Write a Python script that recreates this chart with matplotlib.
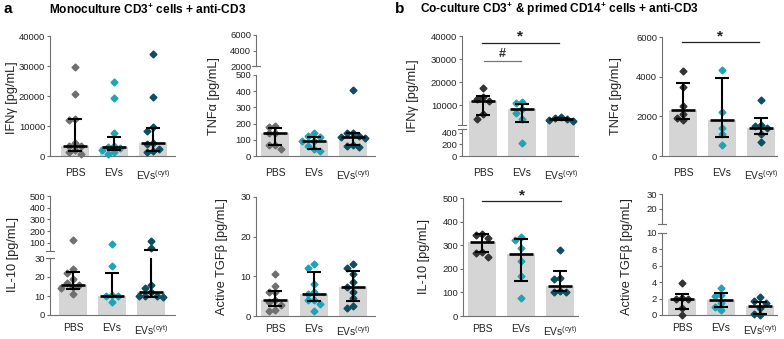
import matplotlib
matplotlib.use("Agg")
import matplotlib.pyplot as plt
import matplotlib.transforms as mtransforms
import numpy as np

plt.rcParams['font.family'] = ['Liberation Sans', 'DejaVu Sans']
plt.rcParams['mathtext.fontset'] = 'custom'
plt.rcParams['mathtext.rm'] = 'Liberation Sans'
plt.rcParams['mathtext.bf'] = 'Liberation Sans:bold'
plt.rcParams['mathtext.default'] = 'regular'

# ---------------- data ----------------
groups = ["PBS", "EVs", "EVs$^{(cyt)}$"]

# Panel a: monoculture
a_ifn_pbs = [29800, 20800, 12400, 12000, 4500, 3500, 3200, 2000, 1500, 800]
a_ifn_evs = [24800, 19300, 7800, 3200, 3000, 2800, 2000, 1200, 800]
a_ifn_cyt = [34000, 19700, 9800, 8400, 4300, 4000, 2500, 1800, 1500]
a_ifn_med = [3200, 3000, 4300]
a_ifn_lo = [1800, 2000, 1700]
a_ifn_hi = [12300, 6500, 9500]

a_tnf_pbs = [186, 180, 145, 140, 70, 65, 42]
a_tnf_evs = [145, 125, 120, 95, 90, 60, 45, 30]
a_tnf_cyt = [410, 145, 143, 125, 115, 110, 65, 60, 55]
a_tnf_med = [140, 92, 115]
a_tnf_lo = [65, 45, 65]
a_tnf_hi = [175, 120, 140]

a_il10_pbs = [128, 24, 22, 19, 17, 16, 15, 14, 11]
a_il10_evs = [92, 26, 10.5, 10, 10, 7]
a_il10_cyt = [115, 53, 16, 14, 12, 10, 10, 10, 9.5]
a_il10_med = [16, 10, 12]
a_il10_lo = [13.6, 10, 9.7]
a_il10_hi = [22.5, 22, 38]

a_tgf_pbs = [10.5, 7.5, 6, 6, 4, 3.5, 2.8, 1.5, 1.2]
a_tgf_evs = [13, 12, 8, 6, 5.5, 4, 4, 3, 1.2]
a_tgf_cyt = [13, 12, 10.5, 8.5, 7.2, 6, 4.5, 2.5, 2]
a_tgf_med = [4.1, 5.5, 7.2]
a_tgf_lo = [2.5, 3.8, 3.8]
a_tgf_hi = [6.4, 11.1, 11.3]

# Panel b: co-culture
b_ifn_pbs = [17300, 13500, 12500, 12000, 6200, 4000]
b_ifn_evs = [11200, 11000, 8100, 6600, 4100, 230]
b_ifn_cyt = [4800, 4400, 4000, 3500, 3000]
b_ifn_med = [12000, 8100, 4000]
b_ifn_lo = [5900, 2700, 3500]
b_ifn_hi = [14000, 10600, 4500]

b_tnf_pbs = [4300, 3500, 2500, 2100, 1900, 1800]
b_tnf_evs = [4350, 2200, 1400, 1100, 550]
b_tnf_cyt = [2800, 1550, 1500, 1400, 1100, 720]
b_tnf_med = [2300, 1800, 1400]
b_tnf_lo = [1850, 980, 1100]
b_tnf_hi = [3700, 3950, 1900]

b_il10_pbs = [348, 345, 330, 270, 268, 248]
b_il10_evs = [336, 322, 290, 234, 171, 77]
b_il10_cyt = [280, 162, 158, 105, 102, 100]
b_il10_med = [312, 262, 129]
b_il10_lo = [270, 150, 105]
b_il10_hi = [347, 325, 190]

b_tgf_pbs = [3.9, 2.1, 2.0, 1.9, 0.8, 0.05]
b_tgf_evs = [3.3, 2.5, 2.3, 1.5, 1.0, 0.6]
b_tgf_cyt = [2.2, 1.7, 1.5, 0.8, 0.1, 0.05]
b_tgf_med = [1.95, 1.82, 1.05]
b_tgf_lo = [0.75, 1.0, 0.08]
b_tgf_hi = [2.6, 2.63, 1.62]

# ---------------- style ----------------
W, H = 784, 339
fig = plt.figure(figsize=(W / 100, H / 100), dpi=100)

C_PBS_A = '#6f6f6f'
C_PBS_B = '#333333'
C_EVS = '#1fa3b6'
C_CYT = '#0d4f5f'
C_BAR = '#d5d5d5'
C_AX = '#707070'
PXU = 39.0  # pixels per category unit
TICK_FS = 6.8


def make_ax(spine, bar0, right, top, bottom, ylim, yticks, show_x=True, xpad=8.5):
    ax = fig.add_axes([spine / W, 1 - bottom / H, (right - spine) / W, (bottom - top) / H])
    xmin = -(bar0 - spine) / PXU
    ax.set_xlim(xmin, xmin + (right - spine) / PXU)
    ax.set_ylim(*ylim)
    ax.set_facecolor('none')
    for s in ['top', 'right']:
        ax.spines[s].set_visible(False)
    for s in ['left', 'bottom']:
        ax.spines[s].set_color(C_AX)
        ax.spines[s].set_linewidth(0.8)
    ax.set_yticks(yticks)
    ax.set_yticklabels([str(t) for t in yticks])
    ax.tick_params(axis='y', length=2.5, width=0.8, color=C_AX, labelsize=TICK_FS, pad=1,
                   labelcolor='#222222')
    if show_x:
        ax.set_xticks([0, 1, 2])
        ax.set_xticklabels(groups)
        ax.tick_params(axis='x', length=0, labelsize=7.4, pad=xpad, labelcolor='#222222')
    else:
        ax.set_xticks([])
        ax.spines['bottom'].set_visible(False)
    return ax


def cap(ax, yval):
    tr = mtransforms.blended_transform_factory(ax.transAxes, ax.transData)
    ax.plot([-0.035, 0.035], [yval, yval], color=C_AX, lw=0.8, transform=tr, clip_on=False)


def pick(axes, v):
    for ax in axes:
        lo, hi = ax.get_ylim()
        if lo <= v <= hi:
            return ax
    return axes[0]


def swarm_offsets(axes, values, xc, ms_px=5.8):
    placed = []
    offs = []
    d = ms_px * 1.0
    for v in values:
        ax = pick(axes, v)
        ypx = ax.transData.transform((xc, v))[1]
        for k in [0, -1, 1, -2, 2, -3, 3, -4, 4]:
            xo = k * d
            if all((xo - px) ** 2 + (ypx - py) ** 2 >= ms_px ** 2 for px, py in placed):
                break
        placed.append((xo, ypx))
        offs.append(xo / PXU)
    return offs


def draw_panel(axes, vals_list, med, lo, hi, colors):
    for i, (vals, col) in enumerate(zip(vals_list, colors)):
        for ax in axes:
            ax.bar(i, med[i], width=0.72, color=C_BAR, zorder=1)
        offs = swarm_offsets(axes, vals, i)
        for v, o in zip(vals, offs):
            ax = pick(axes, v)
            ax.plot(i + o, v, marker='D', ms=3.5, color=col, mec=col, ls='none', zorder=3,
                    clip_on=False)
        for ax in axes:
            ax.plot([i, i], [lo[i], hi[i]], color='black', lw=1.5, zorder=4,
                    solid_capstyle='butt')
        for val, half, lw in [(med[i], 0.3, 1.9), (lo[i], 0.17, 1.5), (hi[i], 0.17, 1.5)]:
            ax = pick(axes, val)
            ax.plot([i - half, i + half], [val, val], color='black', lw=lw, zorder=5,
                    solid_capstyle='butt', clip_on=False)


def sig(ax, x0, x1, yline, ytext, txt, color='#222222', lcolor='#222222', fs=11):
    ax.plot([x0, x1], [yline, yline], color=lcolor, lw=0.9, clip_on=False, zorder=6)
    ax.text((x0 + x1) / 2, ytext, txt, ha='center', va='center', fontsize=fs,
            fontweight='bold', color=color, clip_on=False)


cols_a = [C_PBS_A, C_EVS, C_CYT]
cols_b = [C_PBS_B, C_EVS, C_CYT]

BPAD = 6

# ---- a IFN ----
ax = make_ax(50, 75, 175, 36, 156, (0, 40000), [0, 10000, 20000, 30000, 40000])
draw_panel([ax], [a_ifn_pbs, a_ifn_evs, a_ifn_cyt], a_ifn_med, a_ifn_lo, a_ifn_hi, cols_a)

# ---- a TNF (broken) ----
axl = make_ax(256, 275, 375, 75, 156, (0, 500), [0, 100, 200, 300, 400, 500])
axu = make_ax(256, 275, 375, 35, 66, (2000, 6000), [2000, 4000, 6000], show_x=False)
cap(axu, 2000)
draw_panel([axl, axu], [a_tnf_pbs, a_tnf_evs, a_tnf_cyt], a_tnf_med, a_tnf_lo, a_tnf_hi, cols_a)

# ---- a IL-10 (broken) ----
axl = make_ax(50, 73, 175, 258, 315, (0, 30), [0, 10, 20, 30], xpad=BPAD)
axu = make_ax(50, 73, 175, 196, 251, (30, 500), [100, 200, 300, 400, 500], show_x=False)
cap(axl, 30)
cap(axu, 30)
draw_panel([axl, axu], [a_il10_pbs, a_il10_evs, a_il10_cyt], a_il10_med, a_il10_lo, a_il10_hi,
           cols_a)

# ---- a TGF ----
ax = make_ax(256, 275, 375, 197, 316, (0, 30), [0, 10, 20, 30], xpad=BPAD)
draw_panel([ax], [a_tgf_pbs, a_tgf_evs, a_tgf_cyt], a_tgf_med, a_tgf_lo, a_tgf_hi, cols_a)

# ---- b IFN (broken) ----
axl = make_ax(462, 483, 578, 127, 156, (0, 500), [0, 200, 400])
axu = make_ax(462, 483, 578, 36, 127, (500, 40000), [10000, 20000, 30000, 40000], show_x=False)
axl.spines['left'].set_bounds(0, 470)
axu.spines['left'].set_bounds(1500, 40000)
cap(axl, 470)
cap(axu, 1500)
draw_panel([axl, axu], [b_ifn_pbs, b_ifn_evs, b_ifn_cyt], b_ifn_med, b_ifn_lo, b_ifn_hi, cols_b)
sig(axu, -0.03, 1.95, 37000, 39800, '*')
sig(axu, 0.03, 0.97, 29000, 32300, '#', color='#333333', lcolor='#777777', fs=9)

# ---- b TNF ----
ax = make_ax(662, 683, 777, 37, 156, (0, 6000), [0, 2000, 4000, 6000])
draw_panel([ax], [b_tnf_pbs, b_tnf_evs, b_tnf_cyt], b_tnf_med, b_tnf_lo, b_tnf_hi, cols_b)
sig(ax, -0.03, 1.95, 5750, 6030, '*')

# ---- b IL-10 ----
ax = make_ax(463, 482, 578, 198, 316, (0, 500), [0, 100, 200, 300, 400, 500], xpad=BPAD)
draw_panel([ax], [b_il10_pbs, b_il10_evs, b_il10_cyt], b_il10_med, b_il10_lo, b_il10_hi, cols_b)
sig(ax, 0.0, 2.03, 487, 512, '*')

# ---- b TGF (broken) ----
axl = make_ax(662, 682, 777, 233, 315, (0, 10), [0, 2, 4, 6, 8, 10], xpad=BPAD)
axu = make_ax(662, 682, 777, 194, 224, (10, 30), [20, 30], show_x=False)
cap(axl, 10)
cap(axu, 10)
draw_panel([axl, axu], [b_tgf_pbs, b_tgf_evs, b_tgf_cyt], b_tgf_med, b_tgf_lo, b_tgf_hi, cols_b)

# ---- y labels ----
ylabels = [
    (12, 98, "IFNγ [pg/mL]"),
    (214, 96, "TNFα [pg/mL]"),
    (13, 255, "IL-10 [pg/mL]"),
    (222, 257, "Active TGFβ [pg/mL]"),
    (413, 96, "IFNγ [pg/mL]"),
    (616, 96, "TNFα [pg/mL]"),
    (424, 257, "IL-10 [pg/mL]"),
    (627, 257, "Active TGFβ [pg/mL]"),
]
for x, y, t in ylabels:
    fig.text(x / W, 1 - y / H, t, rotation=90, ha='center', va='center', fontsize=9.2,
             color='#222222')

# ---- titles ----
fig.text(3 / W, 1 - 9 / H, "a", fontsize=11, fontweight='bold', ha='left', va='center')
fig.text(49 / W, 1 - 9.5 / H, r"Monoculture CD3$^\mathbf{+}$ cells + anti-CD3", fontsize=8.6,
         fontweight='bold', ha='left', va='center')
fig.text(395 / W, 1 - 9 / H, "b", fontsize=11, fontweight='bold', ha='left', va='center')
fig.text(420 / W, 1 - 9.5 / H, r"Co-culture CD3$^\mathbf{+}$ & primed CD14$^\mathbf{+}$ cells + anti-CD3",
         fontsize=8.6, fontweight='bold', ha='left', va='center')

fig.savefig("out.png", dpi=100)
